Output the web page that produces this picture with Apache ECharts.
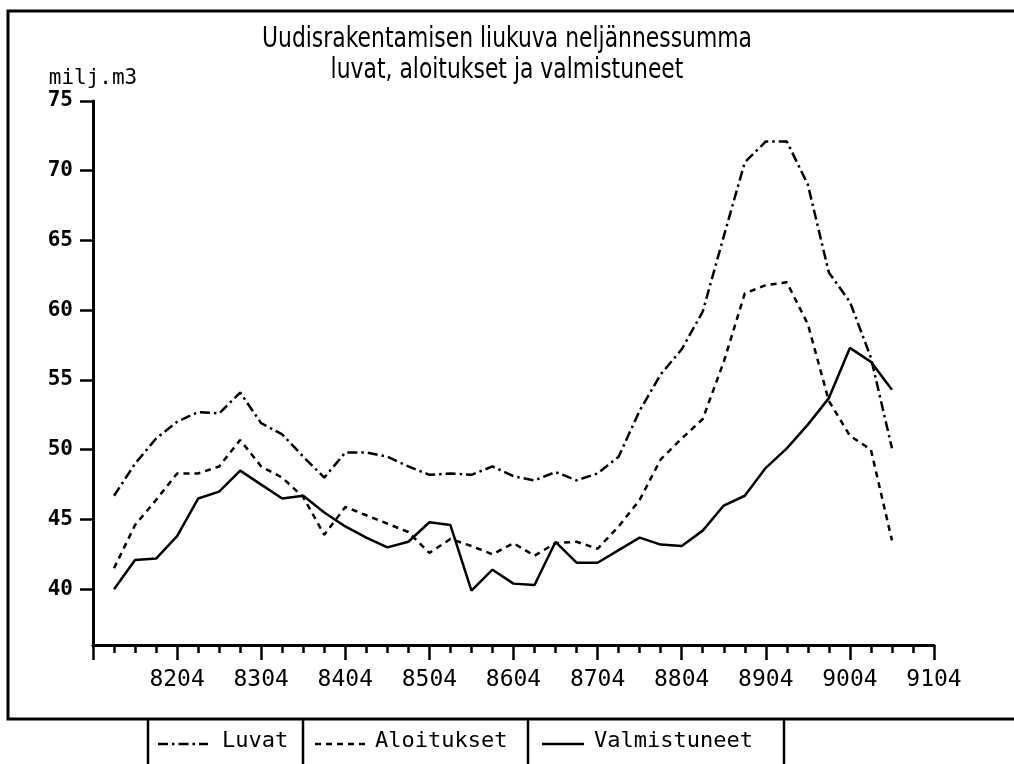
<!DOCTYPE html>
<html>
<head>
<meta charset="utf-8">
<script src="https://cdn.jsdelivr.net/npm/echarts@6/dist/echarts.min.js"></script>
<style>
  html, body { margin: 0; padding: 0; background: #fff; }
  #chart { width: 1014px; height: 764px; }
</style>
</head>
<body>
<div id="chart"></div>
<script>
// neljännekset, indeksi 0 = 8104 ... 40 = 9104
var quarters = [
  "8104", "8201", "8202", "8203", "8204", "8301", "8302", "8303", "8304",
  "8401", "8402", "8403", "8404", "8501", "8502", "8503", "8504",
  "8601", "8602", "8603", "8604", "8701", "8702", "8703", "8704",
  "8801", "8802", "8803", "8804", "8901", "8902", "8903", "8904",
  "9001", "9002", "9003", "9004", "9101", "9102", "9103", "9104"
];
var yTicks = [40, 45, 50, 55, 60, 65, 70, 75];

// milj. m3, liukuva neljännessumma (null = ei tietoa)
var luvat = [null,
  46.7, 49.0, 50.8, 52.0, 52.7, 52.6, 54.1, 51.9, 51.1, 49.5,
  48.0, 49.8, 49.8, 49.5, 48.8, 48.2, 48.3, 48.2, 48.8, 48.1,
  47.8, 48.4, 47.8, 48.3, 49.5, 52.8, 55.4, 57.2, 59.9, 65.3,
  70.6, 72.1, 72.1, 69.0, 62.7, 60.6, 56.6, 50.1, null, null];
var aloitukset = [null,
  41.5, 44.6, 46.4, 48.3, 48.3, 48.8, 50.7, 48.8, 48.0, 46.6,
  43.9, 45.9, 45.3, 44.7, 44.1, 42.6, 43.6, 43.1, 42.5, 43.3,
  42.4, 43.3, 43.4, 42.9, 44.5, 46.4, 49.3, 50.8, 52.2, 56.3,
  61.2, 61.8, 62.0, 59.0, 53.5, 51.0, 50.0, 43.5, null, null];
var valmistuneet = [null,
  40.0, 42.1, 42.2, 43.8, 46.5, 47.0, 48.5, 47.5, 46.5, 46.7,
  45.5, 44.5, 43.7, 43.0, 43.4, 44.8, 44.6, 39.9, 41.4, 40.4,
  40.3, 43.4, 41.9, 41.9, 42.8, 43.7, 43.2, 43.1, 44.2, 46.0,
  46.7, 48.7, 50.1, 51.8, 53.7, 57.3, 56.3, 54.3, null, null];

var titleLines = ["Uudisrakentamisen liukuva neljännessumma", "luvat, aloitukset ja valmistuneet"];

function toPairs(arr) {
  return arr.map(function (v, i) { return [i, v]; });
}

var titleFont = "28px 'DejaVu Sans'";
var ctx = document.createElement("canvas").getContext("2d");
ctx.font = titleFont;
var titleScale = 490 / ctx.measureText(titleLines[0]).width;

var mono = "'DejaVu Sans Mono'";
var black = "#000";

var chartDom = document.getElementById("chart");
var myChart = echarts.init(chartDom);

var option = {
  backgroundColor: "#fff",
  animation: false,
  grid: { left: 93, right: 80, top: 101, bottom: 119 },
  xAxis: {
    type: "value",
    min: 0,
    max: 40,
    interval: 4,
    axisLine: { lineStyle: { color: black, width: 3 } },
    axisTick: { length: 15, lineStyle: { color: black, width: 2.5 } },
    minorTick: { show: true, splitNumber: 4, length: 8, lineStyle: { color: black, width: 2.5 } },
    splitLine: { show: false },
    axisLabel: {
      margin: 24,
      color: black,
      fontFamily: mono,
      fontSize: 23,
      formatter: function (v) { return v > 0 ? quarters[v] : ""; }
    }
  },
  yAxis: {
    type: "value",
    min: 36,
    max: 75,
    name: "milj.m3",
    nameLocation: "end",
    nameGap: 12,
    nameTextStyle: { color: black, fontFamily: mono, fontSize: 21, align: "center" },
    axisLine: { show: true, lineStyle: { color: black, width: 3 } },
    axisTick: { show: true, length: 13, customValues: yTicks, lineStyle: { color: black, width: 2.5 } },
    splitLine: { show: false },
    axisLabel: {
      margin: 20,
      customValues: yTicks,
      color: black,
      fontFamily: mono,
      fontSize: 21,
      fontWeight: "bold"
    }
  },
  series: [
    {
      name: "Luvat",
      type: "line",
      data: toPairs(luvat),
      symbol: "none",
      lineStyle: { color: black, width: 2.5, type: [10, 4, 2.5, 4] }
    },
    {
      name: "Aloitukset",
      type: "line",
      data: toPairs(aloitukset),
      symbol: "none",
      lineStyle: { color: black, width: 2.5, type: [6, 5] }
    },
    {
      name: "Valmistuneet",
      type: "line",
      data: toPairs(valmistuneet),
      symbol: "none",
      lineStyle: { color: black, width: 2.5 }
    }
  ],
  graphic: [
    // kehys
    { type: "polyline", silent: true, shape: { points: [[1014, 11], [8, 11], [8, 719], [1014, 719]] },
      style: { stroke: black, lineWidth: 3, fill: null } },
    // otsikko
    { type: "text", x: 507, y: 40, scaleX: titleScale, style: { text: titleLines[0], font: titleFont, fill: black, align: "center", verticalAlign: "middle" } },
    { type: "text", x: 507, y: 71, scaleX: titleScale, style: { text: titleLines[1], font: titleFont, fill: black, align: "center", verticalAlign: "middle" } },
    // selite
    { type: "line", shape: { x1: 148, y1: 719, x2: 148, y2: 764 }, style: { stroke: black, lineWidth: 2.5 } },
    { type: "line", shape: { x1: 303, y1: 719, x2: 303, y2: 764 }, style: { stroke: black, lineWidth: 2.5 } },
    { type: "line", shape: { x1: 528, y1: 719, x2: 528, y2: 764 }, style: { stroke: black, lineWidth: 2.5 } },
    { type: "line", shape: { x1: 784, y1: 719, x2: 784, y2: 764 }, style: { stroke: black, lineWidth: 2.5 } },
    { type: "line", shape: { x1: 158, y1: 744, x2: 208, y2: 744 }, style: { stroke: black, lineWidth: 2.5, lineDash: [10, 4, 2.5, 4] } },
    { type: "text", x: 222, y: 741, style: { text: "Luvat", font: "22px " + mono, fill: black, verticalAlign: "middle" } },
    { type: "line", shape: { x1: 315, y1: 744, x2: 368, y2: 744 }, style: { stroke: black, lineWidth: 2.5, lineDash: [6, 5] } },
    { type: "text", x: 375, y: 741, style: { text: "Aloitukset", font: "22px " + mono, fill: black, verticalAlign: "middle" } },
    { type: "line", shape: { x1: 542, y1: 744, x2: 584, y2: 744 }, style: { stroke: black, lineWidth: 2.5 } },
    { type: "text", x: 594, y: 741, style: { text: "Valmistuneet", font: "22px " + mono, fill: black, verticalAlign: "middle" } }
  ]
};

option && myChart.setOption(option);
</script>
</body>
</html>
